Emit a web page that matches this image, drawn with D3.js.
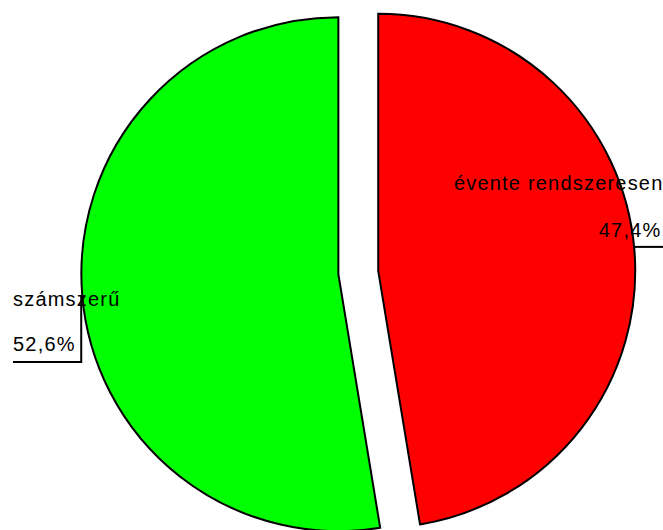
<!DOCTYPE html>
<html>
<head>
<meta charset="utf-8">
<script src="https://cdn.jsdelivr.net/npm/d3@7"></script>
<style>
  html, body { margin: 0; padding: 0; background: #fff; }
  svg { display: block; }
  text { font-family: "Liberation Sans", Arial, sans-serif; font-size: 20px; letter-spacing: 1.2px; fill: #000; }
</style>
</head>
<body>
<svg id="chart" width="663" height="530"></svg>
<script>
// Survey answer shares (percent)
const categories = ["évente rendszeresen", "számszerű"];
const shares = [47.4, 52.6];
const sliceColors = ["#ff0000", "#00ff00"];

const W = 663, H = 530;
const cx = 358.3, cy = 272.5, radius = 257, explode = 20;

const svg = d3.select("#chart");
const fmt = v => d3.format(".1f")(v).replace(".", ",") + "%";

const pie = d3.pie().sort(null).startAngle(0).endAngle(2 * Math.PI);
const arcs = pie(shares);
const arc = d3.arc().innerRadius(0).outerRadius(radius);

// offset of each exploded slice along its mid-angle
function offset(d, dist) {
  const a = (d.startAngle + d.endAngle) / 2;
  return [Math.sin(a) * dist, -Math.cos(a) * dist];
}

// leader lines first, so the slices sit on top of their starting points
const leaders = svg.append("g").attr("fill", "none").attr("stroke", "#000").attr("stroke-width", 2);
const slices = svg.append("g").attr("transform", `translate(${cx},${cy})`);

slices.selectAll("path")
  .data(arcs)
  .join("path")
  .attr("d", arc)
  .attr("transform", d => { const o = offset(d, explode); return `translate(${o[0]},${o[1]})`; })
  .attr("fill", (d, i) => sliceColors[i])
  .attr("stroke", "#000")
  .attr("stroke-width", 2)
  .attr("stroke-linejoin", "miter");

// rim point at each slice's mid-angle
const rim = arcs.map(d => {
  const o = offset(d, explode + radius);
  return [cx + o[0], cy + o[1]];
});

// right label: évente rendszeresen
const r0 = rim[0];
leaders.append("path").attr("d", `M${r0[0]},${r0[1] - 3}H${W}`);
svg.append("text").attr("x", W + 0.5).attr("y", 190).attr("text-anchor", "end").text(categories[0]);
svg.append("text").attr("x", W - 1.5).attr("y", 237).attr("text-anchor", "end").text(fmt(shares[0]));

// left label: számszerű
const r1 = rim[1];
leaders.append("path").attr("d", `M${r1[0] - 1},${r1[1]}V362H13`);
svg.append("text").attr("x", 13).attr("y", 306).text(categories[1]);
svg.append("text").attr("x", 13).attr("y", 351).text(fmt(shares[1]));
</script>
</body>
</html>
